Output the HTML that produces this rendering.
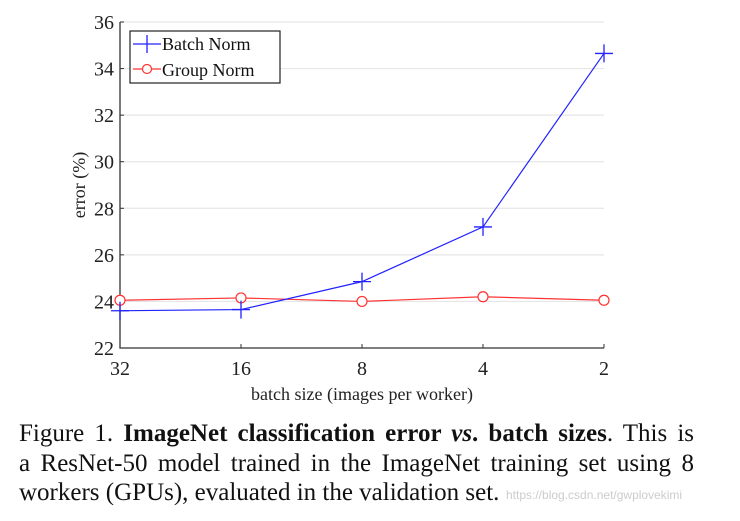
<!DOCTYPE html>
<html><head><meta charset="utf-8"><style>
body{margin:0;background:#fff;width:740px;height:521px;overflow:hidden;font-family:"Liberation Serif",serif}
.cap{position:absolute;left:19px;top:419px;font-size:25px;line-height:29.5px;color:#111;width:675px}
.cap div{text-align:justify;text-align-last:justify;white-space:nowrap}
.cap div.last{text-align-last:left}
</style></head><body>
<svg id="chart" width="740" height="410" style="position:absolute;left:0;top:0" font-family="Liberation Serif, serif"></svg>
<div class="cap"><div>Figure 1. <b>ImageNet classification error <i>vs</i>. batch sizes</b>. This is</div><div>a ResNet-50 model trained in the ImageNet training set using 8</div><div class="last">workers (GPUs), evaluated in the validation set.</div></div>
<div style="position:absolute;left:506px;top:488px;font-family:'Liberation Sans',sans-serif;font-size:12px;color:#ccc">https://blog.csdn.net/gwplovekimi</div>
<script>
const categories=["32","16","8","4","2"];
const bnValues=[23.6,23.65,24.85,27.2,34.65];
const gnValues=[24.05,24.15,24.0,24.2,24.05];
const yTicks=[22,24,26,28,30,32,34,36];
const NS="http://www.w3.org/2000/svg";
const svg=document.getElementById('chart');
const L=120,R=604,T=22,B=348;
const x=i=>L+i*(R-L)/(categories.length-1);
const y=v=>B-(v-22)*(B-T)/14;
function mk(tag,a,p){const e=document.createElementNS(NS,tag);for(const k in a)e.setAttribute(k,a[k]);(p||svg).appendChild(e);return e;}
yTicks.forEach(t=>{
 if(t>22){const g=mk('line',{x1:L,x2:R,y1:y(t),y2:y(t),stroke:'#e6e6e6','stroke-width':1.2});
 
 }
 const tk=mk('line',{x1:L,x2:L+4,y1:y(t),y2:y(t),stroke:'#333'});
 
 
 const tx=mk('text',{x:L-6,y:y(t)+7,'text-anchor':'end','font-size':20,fill:'#222'});tx.textContent=t;
 
 
});
categories.forEach((c,i)=>{
 const tk=mk('line',{x1:x(i),x2:x(i),y1:B,y2:B-4,stroke:'#333'});
 
 
 const tx=mk('text',{x:x(i),y:B+27,'text-anchor':'middle','font-size':20,fill:'#222'});tx.textContent=c;
 
 
});
const ax=mk('path',{d:`M${L} ${T}V${B}H${R}`,fill:'none',stroke:'#333','stroke-width':1.3});


const xl=mk('text',{x:(L+R)/2,y:400,'text-anchor':'middle','font-size':18,fill:'#222'});xl.textContent='batch size (images per worker)';


const yl=mk('text',{x:0,y:0,'text-anchor':'middle','font-size':18,fill:'#222',transform:`translate(85,${(T+B)/2}) rotate(-90)`});yl.textContent='error (%)';


function series(vals,color,marker,name){
 const pl=mk('polyline',{points:vals.map((v,i)=>x(i)+','+y(v)).join(' '),fill:'none',stroke:color,'stroke-width':1.2});
 
 
 vals.forEach((v,i)=>{
  let m;
  if(marker==='plus')m=mk('path',{d:`M${x(i)-9} ${y(v)}h18M${x(i)} ${y(v)-9}v18`,stroke:color,'stroke-width':1.3});
  else m=mk('circle',{cx:x(i),cy:y(v),r:5,fill:'#fff',stroke:color,'stroke-width':1.2});
  
  
 });
}
series(gnValues,'#f33','circle','group-norm');
series(bnValues,'#22f','plus','batch-norm');
const lg=mk('g',{});


mk('rect',{x:130,y:31,width:150,height:52,fill:'#fff',stroke:'#222','stroke-width':1.2},lg);
mk('path',{d:'M133 44h28M147 35v18',stroke:'#22f','stroke-width':1.3},lg);
mk('path',{d:'M133 69h28',stroke:'#f33','stroke-width':1.2},lg);
mk('circle',{cx:147,cy:69,r:4.5,fill:'#fff',stroke:'#f33','stroke-width':1.2},lg);
const t1=mk('text',{x:162,y:50,'font-size':18,fill:'#111'},lg);t1.textContent='Batch Norm';


const t2=mk('text',{x:162,y:76,'font-size':18,fill:'#111'},lg);t2.textContent='Group Norm';


</script>
</body></html>
